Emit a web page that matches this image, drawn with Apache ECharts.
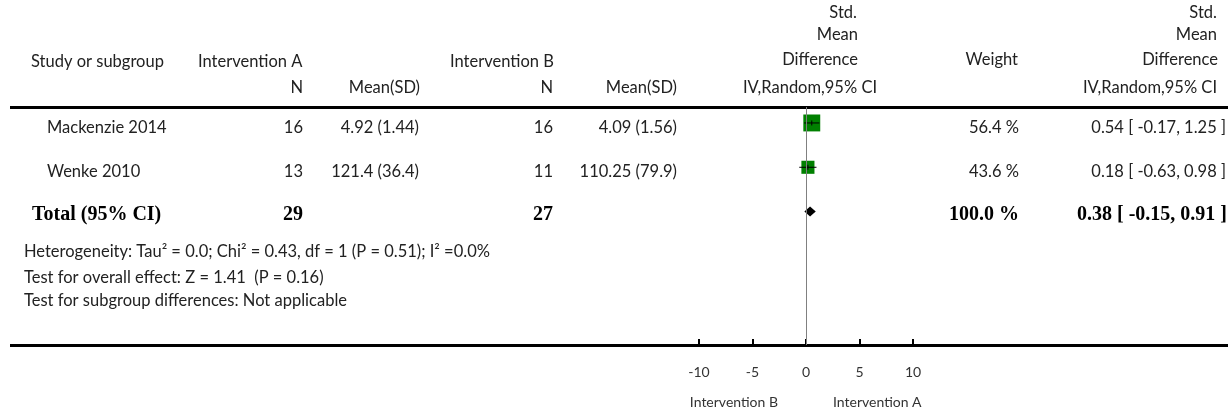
<!DOCTYPE html>
<html><head><meta charset="utf-8">
<script src="https://cdn.jsdelivr.net/npm/echarts@6/dist/echarts.min.js"></script>
<style>html,body{margin:0;padding:0;background:#fff}#c{width:1228px;height:410px}</style>
</head><body><div id="c"></div>
<script>
// ---- data ----
const studies = ['Mackenzie 2014', 'Wenke 2010'];
const nA = [16, 13];
const meanSdA = ['4.92 (1.44)', '121.4 (36.4)'];
const nB = [16, 11];
const meanSdB = ['4.09 (1.56)', '110.25 (79.9)'];
const smd = [0.54, 0.18];
const ciLow = [-0.17, -0.63];
const ciHigh = [1.25, 0.98];
const weights = [56.4, 43.6];
const totalLabel = 'Total (95% CI)';
const totalN = [29, 27];
const totalSmd = [0.38, -0.15, 0.91];
const totalWeight = 100.0;
const xTicks = [-10, -5, 0, 5, 10];
const footnotes = [
  'Heterogeneity: Tau\u00B2 = 0.0; Chi\u00B2 = 0.43, df = 1 (P = 0.51); I\u00B2 =0.0%',
  'Test for overall effect: Z = 1.41  (P = 0.16)',
  'Test for subgroup differences: Not applicable'
];
const favours = ['Intervention B', 'Intervention A'];

// ---- layout ----
const FONT = 'Lato';
const COL = '#222';
const FS = 16.5;
const fmtCI = (m, l, h) => m.toFixed(2) + ' [ ' + l.toFixed(2) + ', ' + h.toFixed(2) + ' ]';
const fmtW = w => w.toFixed(1) + ' %';

function T(text, x, y, align, size, extra) {
  return {
    type: 'text', x: x, y: y, silent: true,
    style: Object.assign({
      text: text, font: (size || FS) + 'px ' + FONT, fill: COL,
      textAlign: align || 'left', textVerticalAlign: 'middle'
    }, extra || {})
  };
}
function TB(text, x, y, align) {
  return T(text, x, y, align, 20, { font: 'bold 20px "Liberation Serif", "DejaVu Serif", serif', fill: '#000' });
}

const g = [];
// header
g.push(T('Study or subgroup', 31, 62, 'left'));
g.push(T('Intervention A', 198, 62, 'left'));
g.push(T('Intervention B', 450, 62, 'left'));
g.push(T('N', 303, 88, 'right'));
g.push(T('Mean(SD)', 420, 88, 'right'));
g.push(T('N', 553, 88, 'right'));
g.push(T('Mean(SD)', 677, 88, 'right'));
g.push(T('Std.', 857, 13, 'right'));
g.push(T('Mean', 858, 35, 'right'));
g.push(T('Difference', 858, 60, 'right'));
g.push(T('IV,Random,95% CI', 810, 88, 'center'));
g.push(T('Weight', 1018, 60, 'right'));
g.push(T('Std.', 1217, 13, 'right'));
g.push(T('Mean', 1217, 35, 'right'));
g.push(T('Difference', 1218, 60, 'right'));
g.push(T('IV,Random,95% CI', 1217, 88, 'right'));
// rows
const rowY = [128, 172];
studies.forEach((s, i) => {
  const y = rowY[i];
  g.push(T(s, 47, y, 'left'));
  g.push(T(String(nA[i]), 303, y, 'right'));
  g.push(T(meanSdA[i], 419, y, 'right'));
  g.push(T(String(nB[i]), 553, y, 'right'));
  g.push(T(meanSdB[i], 677, y, 'right'));
  g.push(T(fmtW(weights[i]), 1019, y, 'right'));
  g.push(T(fmtCI(smd[i], ciLow[i], ciHigh[i]), 1226, y, 'right'));
});
// total
g.push(TB(totalLabel, 32, 215, 'left'));
g.push(TB(String(totalN[0]), 303, 215, 'right'));
g.push(TB(String(totalN[1]), 553, 215, 'right'));
g.push(TB(fmtW(totalWeight), 1019, 215, 'right'));
g.push(TB(fmtCI(totalSmd[0], totalSmd[1], totalSmd[2]), 1227, 215, 'right'));
// footnotes
const footY = [252, 278, 301];
footnotes.forEach((f, i) => g.push(T(f, 24, footY[i], 'left', FS)));
// favours
g.push(T(favours[0], 778, 402, 'right', 14, { fill: '#333' }));
g.push(T(favours[1], 833, 402, 'left', 14, { fill: '#333' }));
// rules
g.push({ type: 'line', silent: true, z: -1, shape: { x1: 10, y1: 107.5, x2: 1228, y2: 107.5 }, style: { stroke: '#000', lineWidth: 3 } });
g.push({ type: 'line', silent: true, z: -1, shape: { x1: 10, y1: 345.5, x2: 1228, y2: 345.5 }, style: { stroke: '#000', lineWidth: 3 } });

const chart = echarts.init(document.getElementById('c'), null, { renderer: 'canvas' });
chart.setOption({
  animation: false,
  backgroundColor: '#fff',
  graphic: g,
  grid: { left: 699, right: 315, top: 107, bottom: 65, containLabel: false },
  xAxis: {
    type: 'value', min: xTicks[0], max: xTicks[xTicks.length - 1], interval: 5,
    axisLine: { show: false },
    axisTick: { show: true, inside: true, length: 6, lineStyle: { color: '#000', width: 2 } },
    axisLabel: { margin: 20, fontFamily: FONT, fontSize: 14, color: '#333',
      formatter: v => xTicks.indexOf(v) >= 0 ? String(v) : '' },
    splitLine: { show: false }
  },
  yAxis: { type: 'value', inverse: true, min: 0.64, max: 6.01, show: false },
  series: [
    {
      type: 'custom', coordinateSystem: 'cartesian2d',
      data: studies.map((s, i) => [smd[i], i + 1, ciLow[i], ciHigh[i], weights[i]]),
      encode: { x: [0, 2, 3], y: 1 },
      renderItem: function (params, api) {
        const y = api.value(1);
        const c = api.coord([api.value(0), y]);
        const lo = api.coord([api.value(2), y]);
        const hi = api.coord([api.value(3), y]);
        const s = api.value(4) * 0.3;
        return {
          type: 'group', children: [
            { type: 'rect', shape: { x: c[0] - s / 2, y: c[1] - s / 2, width: s, height: s }, style: { fill: '#008000' } },
            { type: 'line', shape: { x1: lo[0], y1: c[1], x2: hi[0], y2: c[1] }, style: { stroke: '#000', lineWidth: 1 } },
            { type: 'line', shape: { x1: c[0], y1: c[1] - 2.5, x2: c[0], y2: c[1] + 2.5 }, style: { stroke: '#000', lineWidth: 1 } }
          ]
        };
      },
      z: 3
    },
    {
      type: 'custom', coordinateSystem: 'cartesian2d',
      data: [[totalSmd[0], 3, totalSmd[1], totalSmd[2]]],
      encode: { x: [0, 2, 3], y: 1 },
      renderItem: function (params, api) {
        const y = api.value(1);
        const c = api.coord([api.value(0), y]);
        const lo = api.coord([api.value(2), y]);
        const hi = api.coord([api.value(3), y]);
        return {
          type: 'polygon',
          shape: { points: [[lo[0], c[1]], [c[0], c[1] - 5], [hi[0], c[1]], [c[0], c[1] + 5]] },
          style: { fill: '#000' }
        };
      },
      z: 3,
      markLine: {
        silent: true, symbol: ['none', 'none'], label: { show: false },
        lineStyle: { color: '#808080', width: 1, type: 'solid' },
        data: [{ xAxis: 0 }]
      }
    }
  ]
});
</script></body></html>
